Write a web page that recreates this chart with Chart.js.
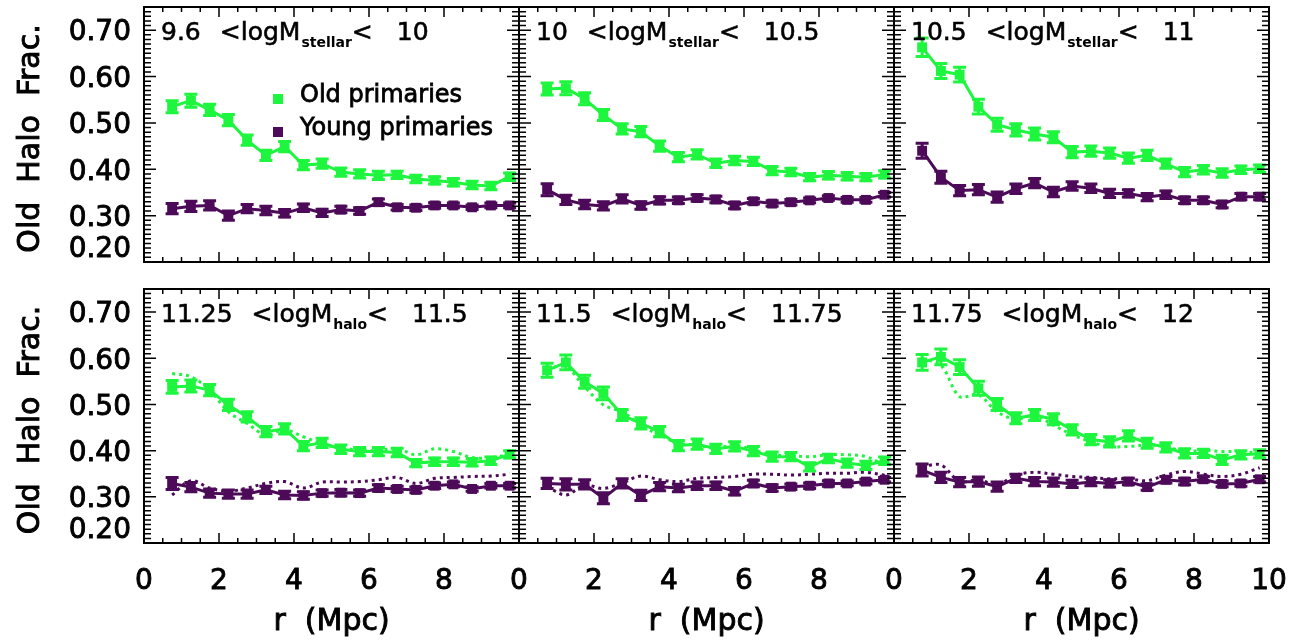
<!DOCTYPE html>
<html>
<head>
<meta charset="utf-8">
<script src="https://cdn.jsdelivr.net/npm/chart.js@4.4.1/dist/chart.umd.min.js"></script>
<style>
html, body { margin: 0; padding: 0; background: #fff; }
#wrap { position: relative; width: 1303px; height: 641px; }
#wrap canvas { position: absolute; left: 0; top: 0; }
</style>
</head>
<body>
<div id="wrap"></div>
<script>
// radial bins (Mpc)
const rMpc = [0.75, 1.25, 1.75, 2.25, 2.75, 3.25, 3.75, 4.25, 4.75, 5.25, 5.75, 6.25, 6.75, 7.25, 7.75, 8.25, 8.75, 9.25, 9.75];
const yTicks = [0.2, 0.3, 0.4, 0.5, 0.6, 0.7];
const xTicks = [0, 2, 4, 6, 8, 10];

// top row: stellar mass bins
const old1 = [0.535, 0.548, 0.528, 0.506, 0.463, 0.430, 0.449, 0.409, 0.412, 0.394, 0.390, 0.387, 0.388, 0.379, 0.376, 0.372, 0.366, 0.364, 0.384];
const young1 = [0.315, 0.320, 0.322, 0.300, 0.315, 0.311, 0.305, 0.317, 0.306, 0.313, 0.310, 0.329, 0.318, 0.317, 0.322, 0.322, 0.318, 0.322, 0.322];
const oldErr1 = [0.013, 0.014, 0.012, 0.012, 0.011, 0.011, 0.011, 0.010, 0.010, 0.009, 0.009, 0.009, 0.008, 0.008, 0.008, 0.008, 0.008, 0.008, 0.008];
const youngErr1 = [0.011, 0.011, 0.010, 0.010, 0.009, 0.009, 0.008, 0.008, 0.008, 0.007, 0.007, 0.007, 0.006, 0.006, 0.006, 0.005, 0.005, 0.005, 0.005];

const old2 = [0.573, 0.575, 0.552, 0.517, 0.487, 0.481, 0.450, 0.426, 0.432, 0.413, 0.419, 0.417, 0.397, 0.394, 0.383, 0.387, 0.385, 0.383, 0.389];
const young2 = [0.356, 0.334, 0.324, 0.321, 0.336, 0.322, 0.333, 0.333, 0.338, 0.335, 0.322, 0.331, 0.326, 0.329, 0.333, 0.338, 0.334, 0.334, 0.345];
const oldErr2 = [0.013, 0.014, 0.013, 0.012, 0.011, 0.011, 0.011, 0.010, 0.010, 0.009, 0.009, 0.009, 0.009, 0.008, 0.008, 0.008, 0.008, 0.008, 0.008];
const youngErr2 = [0.013, 0.010, 0.009, 0.009, 0.009, 0.008, 0.008, 0.007, 0.007, 0.007, 0.007, 0.006, 0.006, 0.006, 0.005, 0.005, 0.005, 0.005, 0.005];

const old3 = [0.663, 0.612, 0.604, 0.535, 0.496, 0.485, 0.476, 0.469, 0.437, 0.439, 0.435, 0.424, 0.430, 0.412, 0.394, 0.399, 0.392, 0.399, 0.401];
const young3 = [0.440, 0.383, 0.354, 0.356, 0.340, 0.358, 0.370, 0.351, 0.364, 0.359, 0.348, 0.348, 0.340, 0.345, 0.333, 0.333, 0.324, 0.341, 0.341];
const oldErr3 = [0.020, 0.016, 0.016, 0.016, 0.014, 0.013, 0.013, 0.012, 0.012, 0.011, 0.011, 0.011, 0.011, 0.010, 0.010, 0.009, 0.009, 0.008, 0.008];
const youngErr3 = [0.016, 0.013, 0.011, 0.011, 0.011, 0.010, 0.010, 0.010, 0.009, 0.009, 0.009, 0.008, 0.008, 0.008, 0.007, 0.007, 0.007, 0.007, 0.007];

// bottom row: halo mass bins (dotted = model)
const old4 = [0.538, 0.540, 0.531, 0.499, 0.473, 0.441, 0.447, 0.410, 0.417, 0.403, 0.398, 0.398, 0.396, 0.373, 0.376, 0.376, 0.375, 0.378, 0.392];
const young4 = [0.329, 0.321, 0.308, 0.306, 0.306, 0.315, 0.304, 0.303, 0.308, 0.309, 0.308, 0.319, 0.317, 0.315, 0.324, 0.327, 0.317, 0.324, 0.324];
const oldErr4 = [0.014, 0.013, 0.012, 0.012, 0.011, 0.011, 0.011, 0.010, 0.010, 0.009, 0.009, 0.009, 0.009, 0.008, 0.008, 0.008, 0.008, 0.008, 0.008];
const youngErr4 = [0.013, 0.010, 0.009, 0.009, 0.009, 0.008, 0.008, 0.008, 0.007, 0.007, 0.007, 0.007, 0.006, 0.006, 0.006, 0.005, 0.005, 0.005, 0.005];
const oldModel4 = [0.567, 0.560, 0.531, 0.484, 0.459, 0.434, 0.445, 0.430, 0.415, 0.405, 0.402, 0.400, 0.405, 0.391, 0.404, 0.398, 0.385, 0.385, 0.392];
const youngModel4 = [0.304, 0.335, 0.319, 0.312, 0.319, 0.329, 0.333, 0.319, 0.332, 0.332, 0.333, 0.337, 0.342, 0.329, 0.340, 0.342, 0.344, 0.345, 0.349];

const old5 = [0.574, 0.591, 0.549, 0.524, 0.477, 0.459, 0.441, 0.411, 0.414, 0.404, 0.409, 0.399, 0.387, 0.387, 0.365, 0.383, 0.373, 0.368, 0.378];
const young5 = [0.329, 0.327, 0.327, 0.297, 0.329, 0.303, 0.322, 0.319, 0.324, 0.324, 0.312, 0.329, 0.319, 0.322, 0.324, 0.329, 0.329, 0.333, 0.337];
const oldErr5 = [0.015, 0.016, 0.014, 0.014, 0.012, 0.012, 0.011, 0.011, 0.011, 0.010, 0.010, 0.010, 0.010, 0.009, 0.009, 0.009, 0.009, 0.009, 0.008];
const youngErr5 = [0.011, 0.012, 0.010, 0.012, 0.010, 0.011, 0.009, 0.008, 0.008, 0.008, 0.008, 0.007, 0.007, 0.006, 0.006, 0.006, 0.005, 0.005, 0.005];
const oldModel5 = [0.578, 0.581, 0.538, 0.499, 0.484, 0.455, 0.434, 0.416, 0.412, 0.405, 0.412, 0.401, 0.391, 0.389, 0.387, 0.391, 0.391, 0.387, 0.368];
const youngModel5 = [0.322, 0.304, 0.325, 0.318, 0.330, 0.345, 0.337, 0.333, 0.340, 0.342, 0.344, 0.349, 0.349, 0.347, 0.349, 0.351, 0.351, 0.353, 0.347];

const old6 = [0.591, 0.603, 0.581, 0.535, 0.500, 0.470, 0.477, 0.468, 0.445, 0.424, 0.419, 0.432, 0.416, 0.407, 0.394, 0.394, 0.380, 0.391, 0.393];
const young6 = [0.358, 0.342, 0.332, 0.333, 0.322, 0.340, 0.333, 0.332, 0.328, 0.332, 0.329, 0.333, 0.321, 0.337, 0.333, 0.338, 0.328, 0.329, 0.338];
const oldErr6 = [0.017, 0.017, 0.016, 0.015, 0.013, 0.012, 0.012, 0.012, 0.011, 0.011, 0.011, 0.011, 0.011, 0.010, 0.010, 0.009, 0.010, 0.009, 0.009];
const youngErr6 = [0.013, 0.011, 0.010, 0.010, 0.010, 0.009, 0.009, 0.009, 0.008, 0.008, 0.008, 0.007, 0.007, 0.007, 0.007, 0.006, 0.006, 0.006, 0.006];
const oldModel6 = [0.599, 0.585, 0.517, 0.521, 0.484, 0.468, 0.477, 0.455, 0.435, 0.419, 0.409, 0.409, 0.412, 0.409, 0.398, 0.401, 0.398, 0.398, 0.394];
const youngModel6 = [0.365, 0.369, 0.333, 0.337, 0.326, 0.347, 0.353, 0.349, 0.344, 0.342, 0.339, 0.339, 0.335, 0.347, 0.355, 0.349, 0.344, 0.349, 0.363];

const GREEN = '#1ef53e';
const PURPLE = '#4c0a58';
const FONT = '"DejaVu Sans", "Noto Sans", sans-serif';

const panels = [
  { col: 0, row: 0, lo: '9.6', hi: '10', sub: 'stellar', old: old1, young: young1, oldErr: oldErr1, youngErr: youngErr1, legend: true },
  { col: 1, row: 0, lo: '10', hi: '10.5', sub: 'stellar', old: old2, young: young2, oldErr: oldErr2, youngErr: youngErr2 },
  { col: 2, row: 0, lo: '10.5', hi: '11', sub: 'stellar', old: old3, young: young3, oldErr: oldErr3, youngErr: youngErr3 },
  { col: 0, row: 1, lo: '11.25', hi: '11.5', sub: 'halo', old: old4, young: young4, oldErr: oldErr4, youngErr: youngErr4, oldModel: oldModel4, youngModel: youngModel4 },
  { col: 1, row: 1, lo: '11.5', hi: '11.75', sub: 'halo', old: old5, young: young5, oldErr: oldErr5, youngErr: youngErr5, oldModel: oldModel5, youngModel: youngModel5 },
  { col: 2, row: 1, lo: '11.75', hi: '12', sub: 'halo', old: old6, young: young6, oldErr: oldErr6, youngErr: youngErr6, oldModel: oldModel6, youngModel: youngModel6 },
];

// panel boxes on the page
const colLeft = [144, 519, 894];
const colWidth = 375;
const rowTop = [6, 289];
const rowBottom = [262, 543];
const W = 1303, H = 641;

const pts = (vals) => rMpc.map((r, i) => ({ x: r, y: vals[i] }));

// IDL-ish text is a little heavier than plain DejaVu
function heavyText(ctx, s, x, y, w) {
  ctx.lineWidth = w;
  ctx.strokeText(s, x, y);
  ctx.fillText(s, x, y);
}

const idlPlugin = {
  id: 'idl',
  afterDatasetsDraw(chart) {
    const ctx = chart.ctx;
    const ys = chart.scales.y;
    chart.data.datasets.forEach((ds, i) => {
      if (!ds.errors) return;
      const meta = chart.getDatasetMeta(i);
      ctx.save();
      ctx.strokeStyle = ds.borderColor;
      ctx.lineWidth = 3;
      meta.data.forEach((el, j) => {
        const v = ds.data[j].y, e = ds.errors[j];
        const y1 = ys.getPixelForValue(v + e), y2 = ys.getPixelForValue(v - e);
        ctx.beginPath();
        ctx.moveTo(el.x, y1); ctx.lineTo(el.x, y2);
        ctx.moveTo(el.x - 6.5, y1); ctx.lineTo(el.x + 6.5, y1);
        ctx.moveTo(el.x - 6.5, y2); ctx.lineTo(el.x + 6.5, y2);
        ctx.stroke();
      });
      ctx.restore();
    });
  },
  afterDraw(chart) {
    const p = chart.options.plugins.idl;
    const ctx = chart.ctx;
    const a = chart.chartArea;
    const xs = chart.scales.x, ys = chart.scales.y;
    ctx.save();
    ctx.strokeStyle = '#000';
    ctx.fillStyle = '#000';
    // minor/major ticks on all four sides
    ctx.lineWidth = 1.5;
    ctx.beginPath();
    for (let k = 20; k <= 75; k++) {
      const y = ys.getPixelForValue(k / 100);
      const len = k % 10 === 0 ? 12 : 7;
      ctx.moveTo(a.left, y); ctx.lineTo(a.left + len, y);
      ctx.moveTo(a.right, y); ctx.lineTo(a.right - len, y);
    }
    for (let k = 0; k <= 20; k++) {
      const x = xs.getPixelForValue(k / 2);
      const len = k % 4 === 0 ? 10 : 5;
      ctx.moveTo(x, a.top); ctx.lineTo(x, a.top + len);
      ctx.moveTo(x, a.bottom); ctx.lineTo(x, a.bottom - len);
    }
    ctx.stroke();
    ctx.lineWidth = 2;
    ctx.strokeRect(a.left, a.top, a.right - a.left, a.bottom - a.top);

    // y tick labels + title on the left column
    if (p.col === 0) {
      ctx.font = '28px ' + FONT;
      ctx.textAlign = 'right';
      ctx.textBaseline = 'middle';
      yTicks.forEach((v) => {
        let y = ys.getPixelForValue(v) + 3;
        if (v === 0.2) y -= 15;
        heavyText(ctx, v.toFixed(2), 131, y, 0.9);
      });
      ctx.save();
      ctx.translate(31, (a.top + a.bottom) / 2 + 4);
      ctx.rotate(-Math.PI / 2);
      ctx.font = '30px ' + FONT;
      ctx.textAlign = 'left';
      const words = ['Old', 'Halo', 'Frac.'];
      const gap = 19;
      const total = words.reduce((s, w) => s + ctx.measureText(w).width, 0) + gap * 2;
      let x = -total / 2;
      words.forEach((w) => { heavyText(ctx, w, x, 0, 0.9); x += ctx.measureText(w).width + gap; });
      ctx.restore();
    }
    // x tick labels + title on the bottom row
    if (p.row === 1) {
      ctx.font = '28px ' + FONT;
      ctx.textAlign = 'center';
      ctx.textBaseline = 'middle';
      xTicks.forEach((v) => {
        if (v === 10 && p.col !== 2) return;
        heavyText(ctx, String(v), xs.getPixelForValue(v), a.bottom + 39, 0.9);
      });
      ctx.font = '30px ' + FONT;
      heavyText(ctx, 'r  (Mpc)', (a.left + a.right) / 2, a.bottom + 79, 0.9);
    }

    // panel title: lo <logM_sub< hi
    ctx.textAlign = 'left';
    ctx.textBaseline = 'alphabetic';
    const base = a.top + 33;
    let x = a.left + 17;
    ctx.font = '25px ' + FONT;
    heavyText(ctx, p.lo, x, base, 0.6);
    x += ctx.measureText(p.lo).width + 19;
    heavyText(ctx, '<logM', x, base, 0.6);
    x += ctx.measureText('<logM').width + 1;
    ctx.font = 'bold 14px ' + FONT;
    ctx.fillText(p.sub, x, base + 7);
    x += ctx.measureText(p.sub).width;
    ctx.font = '25px ' + FONT;
    heavyText(ctx, '<', x, base, 0.6);
    x += ctx.measureText('<').width + 24;
    heavyText(ctx, p.hi, x, base, 0.6);

    if (p.legend) {
      const lx = a.left + 134;
      ctx.font = '24px ' + FONT;
      ctx.textBaseline = 'middle';
      ctx.fillStyle = GREEN;
      ctx.fillRect(lx - 5, a.top + 87, 10, 10);
      ctx.fillStyle = PURPLE;
      ctx.fillRect(lx - 5, a.top + 120, 10, 10);
      ctx.fillStyle = '#000';
      heavyText(ctx, 'Old primaries', a.left + 156, a.top + 89, 0.8);
      heavyText(ctx, 'Young primaries', a.left + 156, a.top + 122, 0.8);
    }
    ctx.restore();
  }
};

const wrap = document.getElementById('wrap');
panels.forEach((p) => {
  const canvas = document.createElement('canvas');
  canvas.width = W; canvas.height = H;
  canvas.style.width = W + 'px'; canvas.style.height = H + 'px';
  wrap.appendChild(canvas);

  const datasets = [
    { data: pts(p.young), errors: p.youngErr, borderColor: PURPLE, backgroundColor: PURPLE, borderWidth: 3, pointStyle: 'rect', pointRadius: 7, pointBorderWidth: 0 },
    { data: pts(p.old), errors: p.oldErr, borderColor: GREEN, backgroundColor: GREEN, borderWidth: 3, pointStyle: 'rect', pointRadius: 7, pointBorderWidth: 0 },
  ];
  if (p.oldModel) {
    datasets.push(
      { data: pts(p.youngModel), borderColor: PURPLE, borderWidth: 3, borderDash: [3, 4], pointRadius: 0, tension: 0.35 },
      { data: pts(p.oldModel), borderColor: GREEN, borderWidth: 3, borderDash: [3, 4], pointRadius: 0, tension: 0.35 }
    );
  }

  new Chart(canvas.getContext('2d'), {
    type: 'line',
    data: { datasets },
    options: {
      responsive: false,
      animation: false,
      devicePixelRatio: 1,
      layout: {
        padding: {
          left: colLeft[p.col],
          right: W - colLeft[p.col] - colWidth,
          top: rowTop[p.row],
          bottom: H - rowBottom[p.row],
        },
      },
      scales: {
        x: { type: 'linear', min: 0, max: 10, display: false },
        y: { type: 'linear', min: 0.2, max: 0.75, display: false },
      },
      plugins: {
        legend: { display: false },
        tooltip: { enabled: false },
        idl: p,
      },
    },
    plugins: [idlPlugin],
  });
});
</script>
</body>
</html>
